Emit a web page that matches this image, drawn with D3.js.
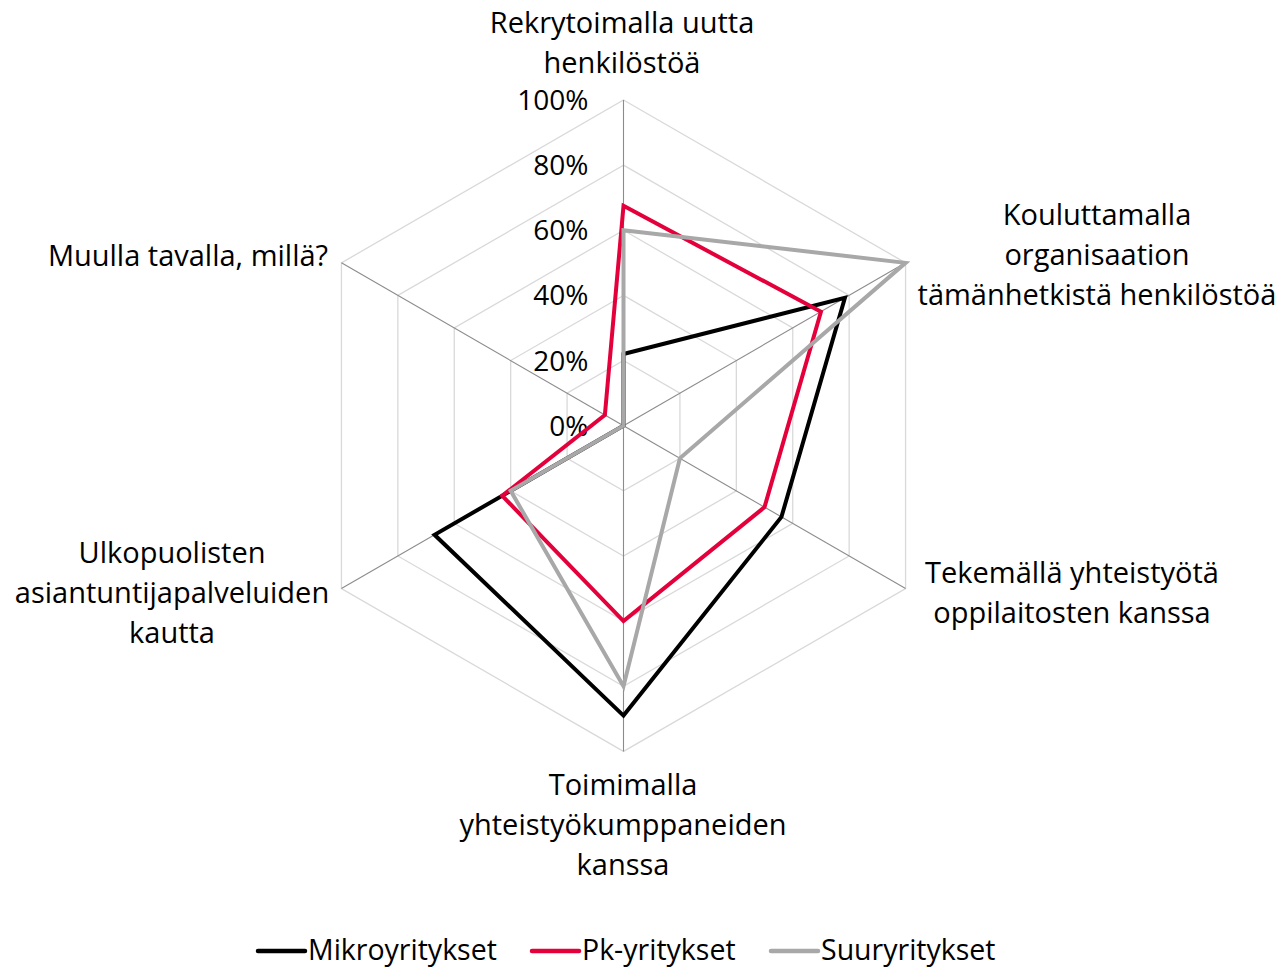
<!DOCTYPE html>
<html>
<head>
<meta charset="utf-8">
<script src="https://cdn.jsdelivr.net/npm/d3@7"></script>
<style>
  body { margin: 0; background: #fff; }
  text { font-family: "Open Sans", "Noto Sans", sans-serif; fill: #000; }
</style>
</head>
<body>
<svg id="chart" width="1281" height="970"></svg>
<script>
// axis categories, clockwise from the top
var categories = [
  ["Rekrytoimalla uutta", "henkilöstöä"],
  ["Kouluttamalla", "organisaation", "tämänhetkistä henkilöstöä"],
  ["Tekemällä yhteistyötä", "oppilaitosten kanssa"],
  ["Toimimalla", "yhteistyökumppaneiden", "kanssa"],
  ["Ulkopuolisten", "asiantuntijapalveluiden", "kautta"],
  ["Muulla tavalla, millä?"]
]
var seriesNames = ["Mikroyritykset", "Pk-yritykset", "Suuryritykset"]
var mikro = [0.22, 0.785, 0.56, 0.89, 0.67, 0.0]
var pk = [0.675, 0.70, 0.50, 0.60, 0.43, 0.066]
var suur = [0.60, 1.0, 0.20, 0.80, 0.40, 0.0]
var tickValues = [0, 0.2, 0.4, 0.6, 0.8, 1.0]
var tickLabels = ["0%", "20%", "40%", "60%", "80%", "100%"]

var colors = ["#000000", "#e4003b", "#a9a8a8"]
var allSeries = [mikro, pk, suur]

var svg = d3.select("#chart")
var cx = 623.5, cy = 425.7, radius = 325.7

var r = d3.scaleLinear().domain([0, 1]).range([0, radius])
var angle = d3.scaleLinear().domain([0, categories.length]).range([0, 2 * Math.PI])

var g = svg.append("g").attr("transform", "translate(" + cx + "," + cy + ")")

function pt(i, v) {
  var a = angle(i)
  return [r(v) * Math.sin(a), -r(v) * Math.cos(a)]
}

// grid hexagons
var ring = d3.line().curve(d3.curveLinearClosed)
tickValues.slice(1).forEach(function(t) {
  g.append("path")
    .attr("d", ring(categories.map(function(c, i) { return pt(i, t) })))
    .attr("fill", "none")
    .attr("stroke", "#d9d9d9")
    .attr("stroke-width", 1.3)
})

// spokes
categories.forEach(function(c, i) {
  var p = pt(i, 1)
  g.append("line")
    .attr("x1", 0).attr("y1", 0)
    .attr("x2", p[0]).attr("y2", p[1])
    .attr("stroke", "#8c8c8c")
    .attr("stroke-width", 1.1)
})

// tick labels
tickValues.forEach(function(t, i) {
  g.append("text")
    .attr("x", -35)
    .attr("y", -r(t) + 10)
    .attr("text-anchor", "end")
    .attr("font-size", "28px")
    .text(tickLabels[i])
})

// series, first one at the bottom
allSeries.forEach(function(s, idx) {
  g.append("path")
    .attr("d", ring(s.map(function(v, i) { return pt(i, v) })))
    .attr("fill", "none")
    .attr("stroke", colors[idx])
    .attr("stroke-width", 4)
    .attr("stroke-linejoin", "miter")
})

// category labels, placed by hand around the chart
var labelPos = [
  [622, 33], [1097, 225], [1072, 583], [623, 795], [172, 563], [188, 266]
]
categories.forEach(function(lines, i) {
  var t = svg.append("text")
    .attr("text-anchor", "middle")
    .attr("font-size", "29px")
  lines.forEach(function(line, j) {
    t.append("tspan")
      .attr("x", labelPos[i][0])
      .attr("y", labelPos[i][1] + j * 40)
      .text(line)
  })
})

// legend
var legendX = [258, 532, 771]
seriesNames.forEach(function(name, i) {
  var lg = svg.append("g").attr("transform", "translate(" + legendX[i] + ",951)")
  lg.append("line")
    .attr("x1", 0).attr("x2", 47)
    .attr("y1", 0).attr("y2", 0)
    .attr("stroke", colors[i])
    .attr("stroke-width", 4.5)
    .attr("stroke-linecap", "round")
  lg.append("text")
    .attr("x", 50)
    .attr("y", 9)
    .attr("font-size", "28.5px")
    .text(name)
})
</script>
</body>
</html>
